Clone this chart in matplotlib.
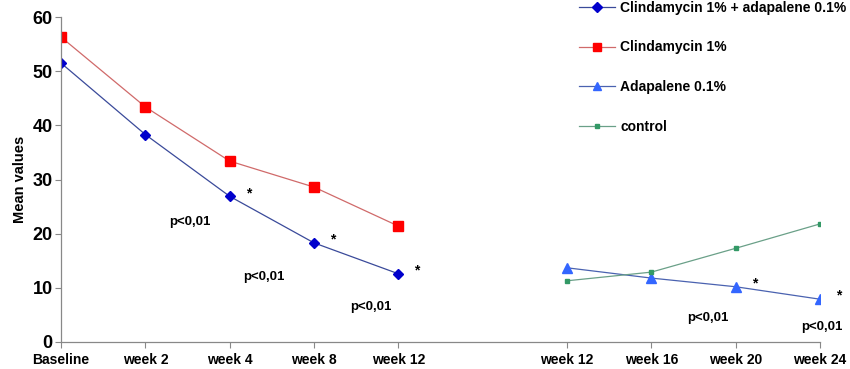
import matplotlib.pyplot as plt
import numpy as np

plt.rcParams['font.family'] = ['Liberation Sans', 'DejaVu Sans']
plt.rcParams['font.weight'] = 'bold'
plt.rcParams['axes.labelweight'] = 'bold'

# category labels (position 5 is the gap between the two study phases)
tick_labels = ['Baseline', 'week 2', 'week 4', 'week 8', 'week 12',
               'week 12', 'week 16', 'week 20', 'week 24']
phase1_pos = [0, 1, 2, 3, 4]
phase2_pos = [6, 7, 8, 9]

combo = [51.5, 38.3, 26.9, 18.3, 12.6]
clinda = [56.3, 43.4, 33.4, 28.6, 21.4]
adapalene = [13.7, 11.8, 10.2, 7.9]
control = [11.3, 12.9, 17.3, 21.8]

# significance marks: '*' beside points and p-value labels
star_x = [2, 3, 4, 8, 9]
star_y = [combo[2], combo[3], combo[4], adapalene[2], adapalene[3]]
p_x = [1.53, 2.4, 3.67, 7.67, 9.02]
p_y = [22.1, 12.0, 6.5, 4.4, 2.8]

fig = plt.figure(figsize=(8.5, 3.69), dpi=100)
ax = fig.add_axes([61 / 850, 1 - 342 / 369, (820 - 61) / 850, (342 - 17) / 369])

l1, = ax.plot(phase1_pos, combo, '-', color='#3a4a9a', lw=0.9, marker='D',
              ms=5.5, mfc='#0000cc', mec='#0000cc', label='Clindamycin 1% + adapalene 0.1%')
l2, = ax.plot(phase1_pos, clinda, '-', color='#d06a6a', lw=0.9, marker='s',
              ms=7, mfc='#ff0000', mec='#ff0000', label='Clindamycin 1%')
l3, = ax.plot(phase2_pos, adapalene, '-', color='#4a62b0', lw=0.9, marker='^',
              ms=7, mfc='#3366ff', mec='#3366ff', label='Adapalene 0.1%')
l4, = ax.plot(phase2_pos, control, '-', color='#6aa088', lw=0.9, marker='s',
              ms=3.5, mfc='#339966', mec='#339966', label='control')

for x, y in zip(star_x, star_y):
    ax.text(x + 0.22, y + 0.6, '*', fontsize=10, ha='center', va='center')
for x, y in zip(p_x, p_y):
    ax.text(x, y, 'p<0,01', fontsize=9.5, ha='center', va='center')

ax.set_xlim(0, 9)
ax.set_ylim(0, 60)
ax.set_xticks(phase1_pos + phase2_pos)
ax.set_xticklabels(tick_labels, fontsize=10)
ax.set_yticks(np.arange(0, 61, 10))
ax.tick_params(axis='y', labelsize=13, length=4, color='#888888', pad=2)
ax.tick_params(axis='x', length=4, color='#888888', pad=4)
ax.set_ylabel('Mean values', fontsize=10.5, labelpad=4)
for side in ['top', 'right']:
    ax.spines[side].set_visible(False)
for side in ['left', 'bottom']:
    ax.spines[side].set_color('#888888')
    ax.spines[side].set_linewidth(0.9)

fig.legend(handles=[l1, l2, l3, l4], loc='upper left',
           bbox_to_anchor=(566 / 850, 1.032), frameon=False,
           fontsize=10, labelspacing=1.85, handlelength=2.6, handletextpad=0.4,
           markerscale=0.85)

fig.savefig('out.png', dpi=100)
